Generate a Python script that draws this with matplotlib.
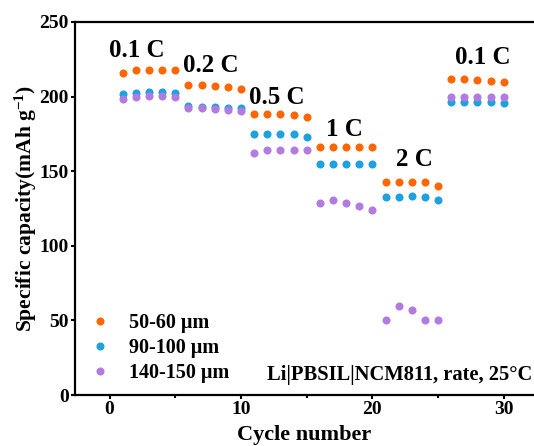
import numpy as np
from matplotlib import pyplot as plt

# cycle numbers, 5 cycles per rate step
cycles = list(range(1, 31))

# 50-60 um
cap_50 = [216, 217.5, 218, 218, 217.5,
          208, 207.5, 207, 206.5, 205,
          188.5, 188, 188, 187.5, 186,
          166, 166, 166, 166, 166,
          142.5, 142.5, 143, 142.5, 140,
          211.5, 211.5, 211, 210.5, 209.5]
# 90-100 um
cap_90 = [202, 202.5, 203, 203, 202.5,
          193.5, 193, 193, 192.5, 192,
          175, 175, 175, 175, 173,
          154.5, 154.5, 154.5, 154.5, 154.5,
          132.5, 133, 133.5, 133, 130.5,
          196.5, 196.5, 196, 196, 195.5]
# 140-150 um
cap_140 = [198.5, 200, 200.5, 200.5, 200,
           192, 192, 191.5, 191, 190,
           162.5, 164, 164.5, 164.5, 164,
           128.5, 130.5, 129, 127, 124,
           50.5, 59.5, 57, 50.5, 50.5,
           199.5, 199.5, 200, 199.5, 199.5]

labels = ['50-60 μm', '90-100 μm', '140-150 μm']
colors = ['#FF6600', '#1DA1DF', '#B27BDF']

rate_labels = ['0.1 C', '0.2 C', '0.5 C', '1 C', '2 C', '0.1 C']
rate_x = [2.1, 7.7, 12.7, 17.9, 23.2, 28.4]
rate_y = [226.5, 216.5, 195, 173.6, 153.5, 221.8]

plt.rcParams['font.family'] = 'Liberation Serif'
plt.rcParams['font.weight'] = 'bold'
plt.rcParams['mathtext.fontset'] = 'custom'
plt.rcParams['mathtext.rm'] = 'Liberation Serif:bold'
plt.rcParams['mathtext.it'] = 'Liberation Serif:bold:italic'
plt.rcParams['mathtext.bf'] = 'Liberation Serif:bold'

fig = plt.figure(figsize=(5.34, 4.46), dpi=100)
ax = fig.add_axes([0.140, 0.114, 0.86, 0.837])

for data, lab, c in zip([cap_50, cap_90, cap_140], labels, colors):
    ax.plot(cycles, data, 'o', color=c, markersize=5.8, markeredgewidth=0, label=lab)

for t, x, y in zip(rate_labels, rate_x, rate_y):
    ax.text(x, y, t, fontsize=18, fontweight='bold', ha='center', va='baseline')

ax.text(0.9956, 0.04, 'Li|PBSIL|NCM811, rate, 25°C', transform=ax.transAxes,
        fontsize=14.8, fontweight='bold', ha='right', va='baseline')

ax.set_xlim(-2.65, 32.3)
ax.set_ylim(0, 250)
ax.set_xticks([0, 10, 20, 30])
ax.set_xticks([5, 15, 25], minor=True)
ax.set_yticks([0, 50, 100, 150, 200, 250])

ax.spines['right'].set_visible(False)
for s in ['left', 'bottom', 'top']:
    ax.spines[s].set_linewidth(1.6)
ax.tick_params(which='major', direction='out', length=3, width=1.5, labelsize=14, pad=1.5)
ax.tick_params(which='minor', direction='out', length=2.5, width=1.5)
ax.tick_params(axis='x', top=False)
for lbl in ax.get_xticklabels() + ax.get_yticklabels():
    lbl.set_fontweight('bold')

ax.set_xlabel('Cycle number', fontsize=16, fontweight='bold', labelpad=5)
ax.set_ylabel('Specific capacity(mAh g$^{-1}$)', fontsize=15.5, fontweight='bold', labelpad=0)

ax.legend(loc='lower left', bbox_to_anchor=(-0.011, -0.017), frameon=False, fontsize=14.5,
          handletextpad=0.85, labelspacing=0.26, handlelength=1.2, markerscale=1.0)

plt.savefig('out.png', dpi=100)
